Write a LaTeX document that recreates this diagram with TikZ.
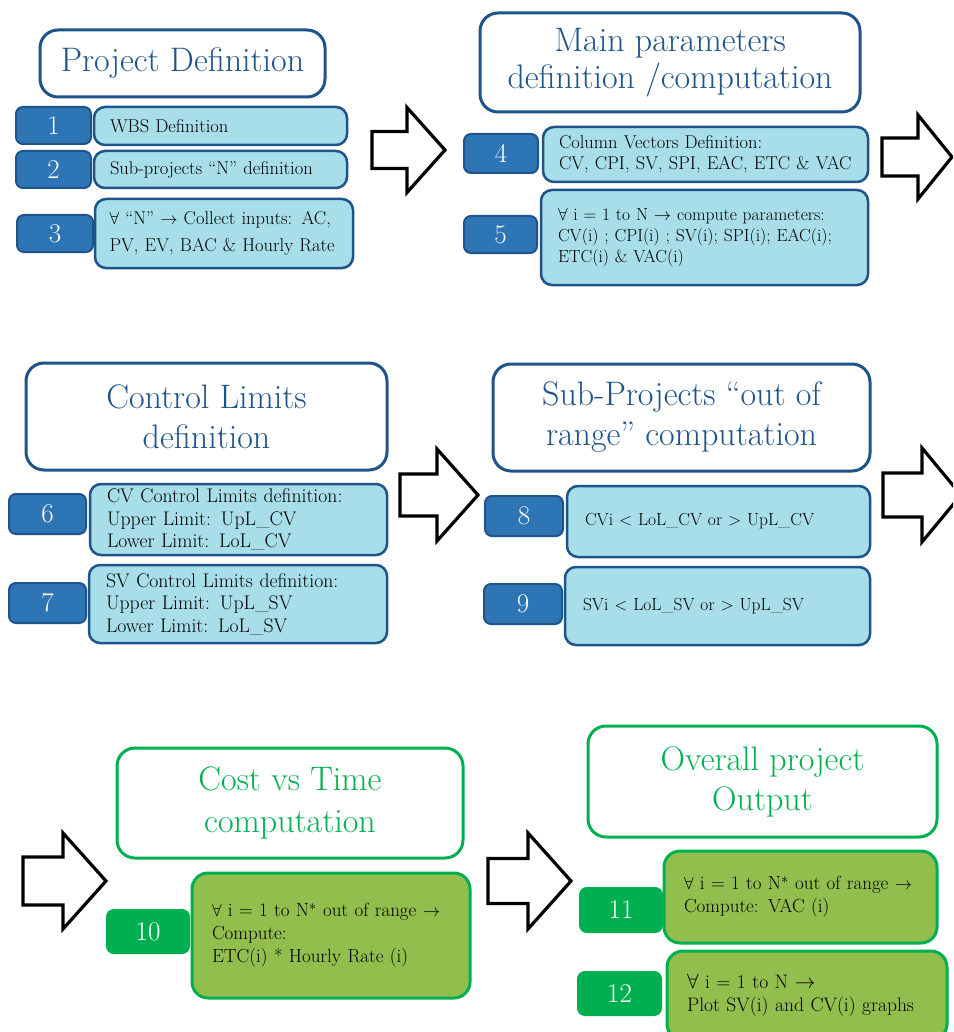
\documentclass[tikz,border=0pt]{standalone}
\usepackage{tikz}
\usetikzlibrary{positioning}
\definecolor{tBlue}{RGB}{31,84,138}
\definecolor{nBlue}{RGB}{46,117,182}
\definecolor{bCyan}{RGB}{168,222,234}
\definecolor{tGreen}{RGB}{0,176,80}
\definecolor{bGreen}{RGB}{146,190,78}
\newcommand{\fsz}[2]{\fontsize{#1}{#2}\selectfont}
% x0, head base, tip, mid y, shaft half height, head half height
\newcommand{\blockarrow}[6]{%
  \draw[line width=3.2pt, fill=white, line join=miter]
    (#1,#4-#5) -- (#2,#4-#5) -- (#2,#4-#6) -- (#3,#4) -- (#2,#4+#6)
    -- (#2,#4+#5) -- (#1,#4+#5) -- cycle;}
\tikzset{
  headbox/.style={draw=tBlue, line width=3pt, fill=white, rounded corners=18pt,
    text=tBlue, align=center, inner sep=0pt, font=\fsz{34}{40}},
  numbox/.style={draw=tBlue, line width=2pt, fill=nBlue, rounded corners=7pt,
    text=white, inner sep=0pt, font=\fsz{27}{30}},
  taskbox/.style={draw=tBlue, line width=2.5pt, fill=bCyan, rounded corners=11pt,
    align=left, inner sep=0pt, font=\fsz{17.5}{21}},
  gheadbox/.style={headbox, draw=tGreen, text=tGreen},
  gnumbox/.style={numbox, draw=tGreen, fill=tGreen},
  gtaskbox/.style={taskbox, draw=tGreen, fill=bGreen, line width=3pt,
    rounded corners=16pt, font=\fsz{19}{23}},
}
\begin{document}
\begin{tikzpicture}[x=1pt, y=-1pt]
  \clip (0,0) rectangle (953,1032);
  \fill[white] (0,0) rectangle (953,1032);

  % project definition
  \node[headbox, minimum width=285, minimum height=67] (t1) at (182.5,63.5) {Project Definition};
  \node[numbox, minimum width=75, minimum height=37] (n1) at (53.5,125.5) {1};
  \node[taskbox, minimum width=253, minimum height=38, text width=221, font=\fsz{18.5}{20}] (b1) at (220.5,126) {WBS Definition};
  \node[numbox, minimum width=75, minimum height=37] (n2) at (53.5,169.5) {2};
  \node[taskbox, minimum width=253, minimum height=37, text width=221, font=\fsz{18.5}{20}] (b2) at (220.5,169.5) {Sub-projects ``N'' definition};
  \node[numbox, minimum width=76, minimum height=37] (n3) at (55,233.5) {3};
  \node[taskbox, minimum width=258, minimum height=69, text width=229, font=\fsz{18.5}{27}] (b3) at (224,233.5) {$\forall$ ``N'' $\rightarrow$ Collect inputs: AC,\\ PV, EV, BAC \& Hourly Rate};

  \blockarrow{372}{407}{445}{150}{18.5}{42.5}

  % main parameters
  \node[headbox, minimum width=380, minimum height=99, font=\fsz{34}{37}] (t2) at (670,62.5) {Main parameters\\ definition /computation};
  \node[numbox, minimum width=74, minimum height=39] (n4) at (501,153.5) {4};
  \node[taskbox, minimum width=325, minimum height=55, text width=293, font=\fsz{18.5}{20.5}] (b4) at (705.5,154.5) {Column Vectors Definition:\\ CV, CPI, SV, SPI, EAC, ETC \& VAC};
  \node[numbox, minimum width=73, minimum height=37] (n5) at (500.5,234.5) {5};
  \node[taskbox, minimum width=327, minimum height=95, text width=293] (b5) at (704.5,237.5) {$\forall$ i = 1 to N $\rightarrow$ compute parameters:\\ CV(i) ; CPI(i) ; SV(i); SPI(i); EAC(i);\\ ETC(i) \& VAC(i)};

  \blockarrow{882}{918}{952}{157}{19}{42}

  % control limits
  \node[headbox, minimum width=361, minimum height=107] (t3) at (206.5,416.5) {Control Limits\\ definition};
  \node[numbox, minimum width=77, minimum height=40] (n6) at (47.5,514) {6};
  \node[taskbox, minimum width=297, minimum height=71, text width=263, font=\fsz{19.7}{22.5}] (b6) at (238.5,519.5) {CV Control Limits definition:\\ Upper Limit: UpL\_CV\\ Lower Limit: LoL\_CV};
  \node[numbox, minimum width=77, minimum height=40] (n7) at (47.5,603) {7};
  \node[taskbox, minimum width=298, minimum height=78, text width=264, font=\fsz{19.7}{22.5}] (b7) at (238,604) {SV Control Limits definition:\\ Upper Limit: UpL\_SV\\ Lower Limit: LoL\_SV};

  \blockarrow{400}{437}{478}{495}{21}{46}

  % out of range
  \node[headbox, minimum width=377, minimum height=107] (t4) at (681.5,417.5) {Sub-Projects ``out of\\ range'' computation};
  \node[numbox, minimum width=78, minimum height=40] (n8) at (524,516) {8};
  \node[taskbox, minimum width=303, minimum height=71, text width=267, font=\fsz{17.5}{22}] (b8) at (718.5,521.5) {CVi $<$ LoL\_CV or $>$ UpL\_CV};
  \node[numbox, minimum width=78, minimum height=40] (n9) at (523,604) {9};
  \node[taskbox, minimum width=305, minimum height=78, text width=269, font=\fsz{17.5}{22}] (b9) at (717.5,606) {SVi $<$ LoL\_SV or $>$ UpL\_SV};

  \blockarrow{883}{922}{961}{495}{22}{47}

  % cost vs time
  \blockarrow{23}{63}{106}{881}{24}{48}
  \node[gheadbox, minimum width=346, minimum height=110, font=\fsz{34}{42}] (t5) at (290,803) {Cost vs Time\\ computation};
  \node[gnumbox, minimum width=82, minimum height=43] (n10) at (148,931.5) {10};
  \node[gtaskbox, minimum width=278, minimum height=125, text width=238] (b10) at (331,935.5) {$\forall$ i = 1 to N$^*$ out of range $\rightarrow$\\ Compute:\\ ETC(i) * Hourly Rate (i)};

  % overall output
  \blockarrow{488}{528}{571}{881}{22.5}{48}
  \node[gheadbox, minimum width=349, minimum height=111] (t6) at (762.5,781.5) {Overall project\\ Output};
  \node[gnumbox, minimum width=82, minimum height=44] (n11) at (621,910) {11};
  \node[gtaskbox, minimum width=273, minimum height=92, text width=233] (b11) at (800.5,897) {$\forall$ i = 1 to N$^*$ out of range $\rightarrow$\\ Compute: VAC (i)};
  \node[gnumbox, minimum width=83, minimum height=43] (n12) at (619.5,993.5) {12};
  \node[gtaskbox, minimum width=280, minimum height=89, text width=240, font=\fsz{19.5}{23}] (b12) at (807,995.5) {$\forall$ i = 1 to N $\rightarrow$\\ Plot SV(i) and CV(i) graphs};
\end{tikzpicture}
\end{document}
